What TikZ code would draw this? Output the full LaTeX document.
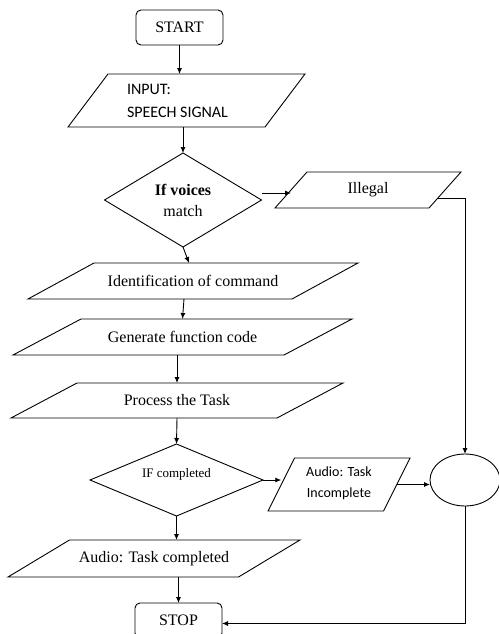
\documentclass[tikz,border=0pt]{standalone}
\usepackage{fontspec}
\setmainfont{Liberation Serif}
\newfontfamily\calib{Carlito}
\usetikzlibrary{shapes.geometric,arrows.meta}
\tikzset{
  every node/.style={inner sep=0pt, outer sep=0pt},
  base/.style={draw, line width=0.9pt},
  term/.style={base, rounded corners=5pt, minimum width=87pt, minimum height=35pt, font=\fontsize{16}{18}\selectfont},
  pnode/.style={rectangle, font=\fontsize{16}{18}\selectfont},
  dec/.style={base, diamond, align=center},
  oval/.style={base, ellipse},
  arr/.style={line width=0.9pt, -{Latex[length=6pt,width=5pt]}},
}
% #1 options, #2 name, #3 position, #4 body width, #5 height, #6 slant offset, #7 text
\newcommand\pbox[7][]{%
  \node[pnode, minimum width=#4, minimum height=#5, #1] (#2) at #3 {#7};
  \draw[base] ([xshift=#6/2]#2.north west) -- ([xshift=#6/2]#2.north east)
    -- ([xshift=-#6/2]#2.south east) -- ([xshift=-#6/2]#2.south west) -- cycle;}
\begin{document}
\begin{tikzpicture}[x=1pt,y=-1pt]
\useasboundingbox (0,0) rectangle (498,634);
\node[term] (start) at (179.5,27.5) {START};
\pbox[label={[font=\calib\fontsize{16}{23}\selectfont, align=left, xshift=-9pt]center:{INPUT:\\SPEECH SIGNAL}}]{input}{(186.5,100.5)}{197pt}{53pt}{40pt}{}
\node[dec, minimum width=157pt, minimum height=94pt, font=\fontsize{16}{21}\selectfont] (d1) at (183,200) {\textbf{If voices}\\match};
\pbox{illegal}{(368,190)}{154pt}{36pt}{32pt}{Illegal}
\pbox{ident}{(193,281)}{264pt}{36pt}{66pt}{Identification of command}
\pbox{gen}{(182.5,337)}{271pt}{36pt}{68pt}{Generate function code}
\pbox{proc}{(177,400.5)}{266pt}{35pt}{66pt}{Process the Task}
\node[dec, minimum width=173pt, minimum height=72pt,
  label={[font=\fontsize{13}{15}\selectfont, yshift=6pt]center:IF completed}] (d2) at (176.5,480) {\phantom{x}};
\pbox[label={[font=\calib\fontsize{14}{21}\selectfont, align=center, yshift=1pt]center:{Audio: Task\\Incomplete}}]{aud}{(339,484.5)}{115.5pt}{53pt}{26.5pt}{}
\node[oval, minimum width=70pt, minimum height=52pt] (circ) at (465,480) {\phantom{x}};
\pbox{audc}{(154,558.5)}{230.5pt}{37pt}{61.5pt}{Audio: Task completed}
\node[term] (stop) at (178.5,620.5) {STOP};

\draw[arr] (start.south) -- (start.south |- input.north);
\draw[arr] (d1.north |- input.south) -- (d1.north);
\draw[arr] ([yshift=7pt]d1.east) -- ([yshift=7pt]d1.east -| illegal.west);
\draw[arr] ([xshift=-8pt,yshift=-8pt]illegal.east) -| (circ.north);
\draw[arr] (d1.south) -- ([xshift=-4pt]ident.north);
\draw[arr] ([xshift=-9pt]ident.south) -- (gen.north);
\draw[arr] (proc.north |- gen.south) -- (proc.north);
\draw[arr] (proc.south) -- (d2.north);
\draw[arr] (d2.east) -- (d2.east -| aud.west);
\draw[arr] (aud.east) -- (aud.east -| circ.west);
\draw[arr] (d2.south) -- (d2.south |- audc.north);
\draw[arr] (stop.north |- audc.south) -- (stop.north);
\draw[arr] (circ.south) |- ([yshift=-3pt]stop.east);
\end{tikzpicture}
\end{document}
